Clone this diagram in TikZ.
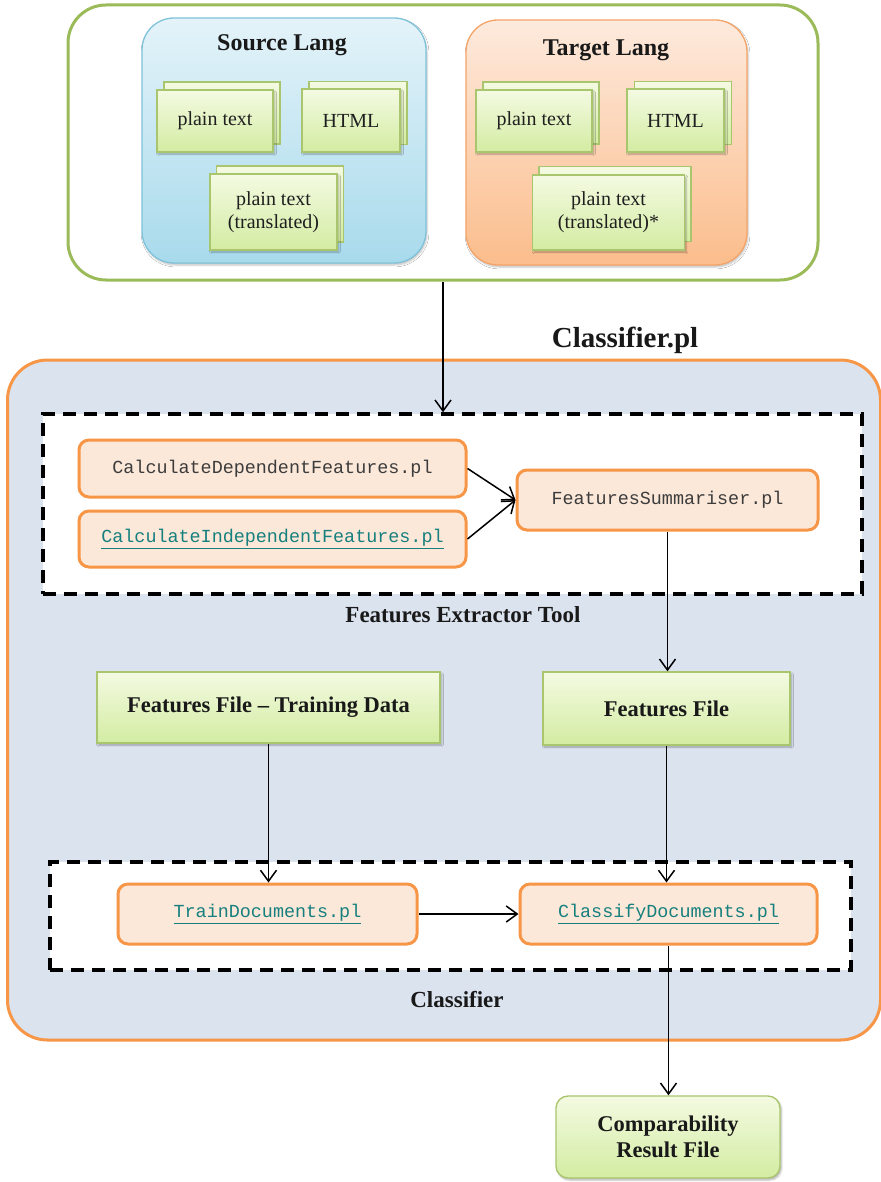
\documentclass[tikz,border=0pt]{standalone}
\usepackage{fontspec}
\setmainfont{Liberation Serif}
\newfontfamily\monof{Liberation Mono}
\usetikzlibrary{arrows.meta,shadows.blur}

\definecolor{leaf}{HTML}{9BBB59}
\definecolor{leafedge}{HTML}{A9C66E}
\definecolor{doctop}{HTML}{F4FAE2}
\definecolor{docbot}{HTML}{D3ECA2}
\definecolor{skytop}{HTML}{E4F3F9}
\definecolor{skybot}{HTML}{A8DAEC}
\definecolor{skyedge}{HTML}{7FC3DA}
\definecolor{peachtop}{HTML}{FDEADD}
\definecolor{peachbot}{HTML}{FBBD8C}
\definecolor{peachedge}{HTML}{F5A468}
\definecolor{panel}{HTML}{DBE3EE}
\definecolor{orng}{HTML}{F79646}
\definecolor{scriptfill}{HTML}{FCE8D9}
\definecolor{linkteal}{HTML}{16807E}
\definecolor{greytext}{HTML}{3C3C3C}

\newcommand{\pfont}[1]{\fontsize{#1}{1.15\dimexpr#1pt\relax}\selectfont}
\newcommand{\plink}[1]{{\color{linkteal}\underline{#1}}}

\begin{document}
\begin{tikzpicture}[x=1pt,y=1pt,
  outerbox/.style={draw=leaf, line width=3pt, rounded corners=38pt, fill=white},
  langbox/.style={draw=#1edge, line width=1.3pt, rounded corners=32pt,
    top color=#1top, bottom color=#1bot, inner sep=0pt,
    blur shadow={shadow xshift=1pt, shadow yshift=-2pt, shadow blur steps=5, shadow opacity=25}},
  langtitle/.style={font=\pfont{24}\bfseries, text=black!90},
  docback/.style={draw=leafedge, line width=1.4pt, top color=doctop, bottom color=docbot,
    inner sep=0pt},
  docfront/.style={docback, align=center, font=\pfont{20}, text=black!88,
    blur shadow={shadow xshift=1.5pt, shadow yshift=-2pt, shadow blur steps=4, shadow opacity=30}},
  panelbox/.style={draw=orng, line width=3pt, rounded corners=40pt, fill=panel},
  dashbox/.style={draw=black, line width=3.5pt, dash pattern=on 13pt off 8pt, fill=white},
  scriptbox/.style={draw=orng, line width=3pt, rounded corners=10pt, fill=scriptfill,
    font=\monof\pfont{18.4}, text=greytext, inner sep=0pt},
  databox/.style={draw=leafedge, line width=1.4pt, top color=doctop, bottom color=docbot,
    font=\pfont{22.5}\bfseries, align=center, text=black!90, inner sep=0pt,
    blur shadow={shadow xshift=1.5pt, shadow yshift=-2pt, shadow blur steps=4, shadow opacity=30}},
  grouplabel/.style={font=\pfont{23}\bfseries, text=black!90},
  arr/.style={line width=1.5pt, -{Straight Barb[length=11pt,width=16pt,line width=1.5pt]}}
]
\useasboundingbox (0,0) rectangle (880,-1182);

% ---- input documents ----
\node[outerbox, minimum width=750pt, minimum height=275pt] (inputs) at (443,-142.5) {};

\node[langbox=sky, minimum width=284pt, minimum height=245pt] (src) at (284,-140.5) {};
\node[langtitle] (srcT) at (282,-45) {Source Lang};
\node[langbox=peach, minimum width=281pt, minimum height=245pt] (tgt) at (606.5,-142.5) {};
\node[langtitle] (tgtT) at (606,-50) {Target Lang};

% source documents (two stacked sheets each)
\node[docback, minimum width=116pt, minimum height=62pt] (sPlainB) at (222,-113) {};
\node[docfront, minimum width=116pt, minimum height=62pt] (sPlain) at (215,-121) {plain text};
\node[docback, minimum width=98pt, minimum height=63pt] (sHtmlB) at (358,-113) {};
\node[docfront, minimum width=98pt, minimum height=63pt] (sHtml) at (351,-120.5) {HTML};
\node[docback, minimum width=127pt, minimum height=76pt] (sTrB) at (280,-204) {};
\node[docfront, minimum width=127pt, minimum height=76pt] (sTr) at (273.5,-212) {plain text\\(translated)};

% target documents
\node[docback, minimum width=116pt, minimum height=62pt] (tPlainB) at (541,-113) {};
\node[docfront, minimum width=116pt, minimum height=62pt] (tPlain) at (534,-121) {plain text};
\node[docback, minimum width=97pt, minimum height=63pt] (tHtmlB) at (683,-113) {};
\node[docfront, minimum width=97pt, minimum height=63pt] (tHtml) at (675.5,-120.5) {HTML};
\node[docback, minimum width=152pt, minimum height=75pt] (tTrB) at (615,-204) {};
\node[docfront, minimum width=152pt, minimum height=75pt] (tTr) at (608.5,-212.5) {plain text\\(translated)*};

% ---- classifier panel ----
\node[font=\pfont{29}\bfseries, text=black!90] (clsT) at (625,-340) {Classifier.pl};
\node[panelbox, minimum width=873pt, minimum height=680pt] (panel) at (444,-700) {};

% features extractor
\node[dashbox, minimum width=819pt, minimum height=180pt] (fext) at (452.5,-504) {};
\node[scriptbox, minimum width=387pt, minimum height=57pt] (cdep) at (272.5,-468.5) {CalculateDependentFeatures.pl};
\node[scriptbox, minimum width=387pt, minimum height=56pt] (cind) at (272.5,-539) {\plink{CalculateIndependentFeatures.pl}};
\node[scriptbox, minimum width=301pt, minimum height=60pt] (fsum) at (667.5,-500) {FeaturesSummariser.pl};
\node[grouplabel] (fextT) at (463,-615) {Features Extractor Tool};

% feature files
\node[databox, minimum width=343pt, minimum height=71pt] (ftrain) at (268.5,-707.5) {Features File -- Training Data};
\node[databox, minimum width=247pt, minimum height=73pt] (ffile) at (666.5,-708.5) {Features File};

% classifier
\node[dashbox, minimum width=801pt, minimum height=108pt] (clsbox) at (450.5,-916) {};
\node[scriptbox, minimum width=299pt, minimum height=60pt] (train) at (267.5,-914) {\plink{TrainDocuments.pl}};
\node[scriptbox, minimum width=297pt, minimum height=60pt] (classify) at (668.5,-914) {\plink{ClassifyDocuments.pl}};
\node[grouplabel] (clsboxT) at (457,-1000) {Classifier};

% result
\node[databox, rounded corners=12pt, minimum width=224pt, minimum height=82pt] (result) at (668,-1137) {Comparability\\Result File};

% ---- connectors ----
\draw[arr] (inputs.south) -- (inputs.south |- fext.north);
\draw[arr] (cdep.east) -- (fsum.west);
\draw[arr] (cind.east) -- (fsum.west);
\draw[arr] (fsum.south) -- (fsum.south |- ffile.north);
\draw[arr] (ftrain.south) -- (ftrain.south |- train.north);
\draw[arr] (ffile.south) -- (ffile.south |- classify.north);
\draw[arr] (train.east) -- (classify.west);
\draw[arr] (classify.south) -- (classify.south |- result.north);
\end{tikzpicture}
\end{document}
